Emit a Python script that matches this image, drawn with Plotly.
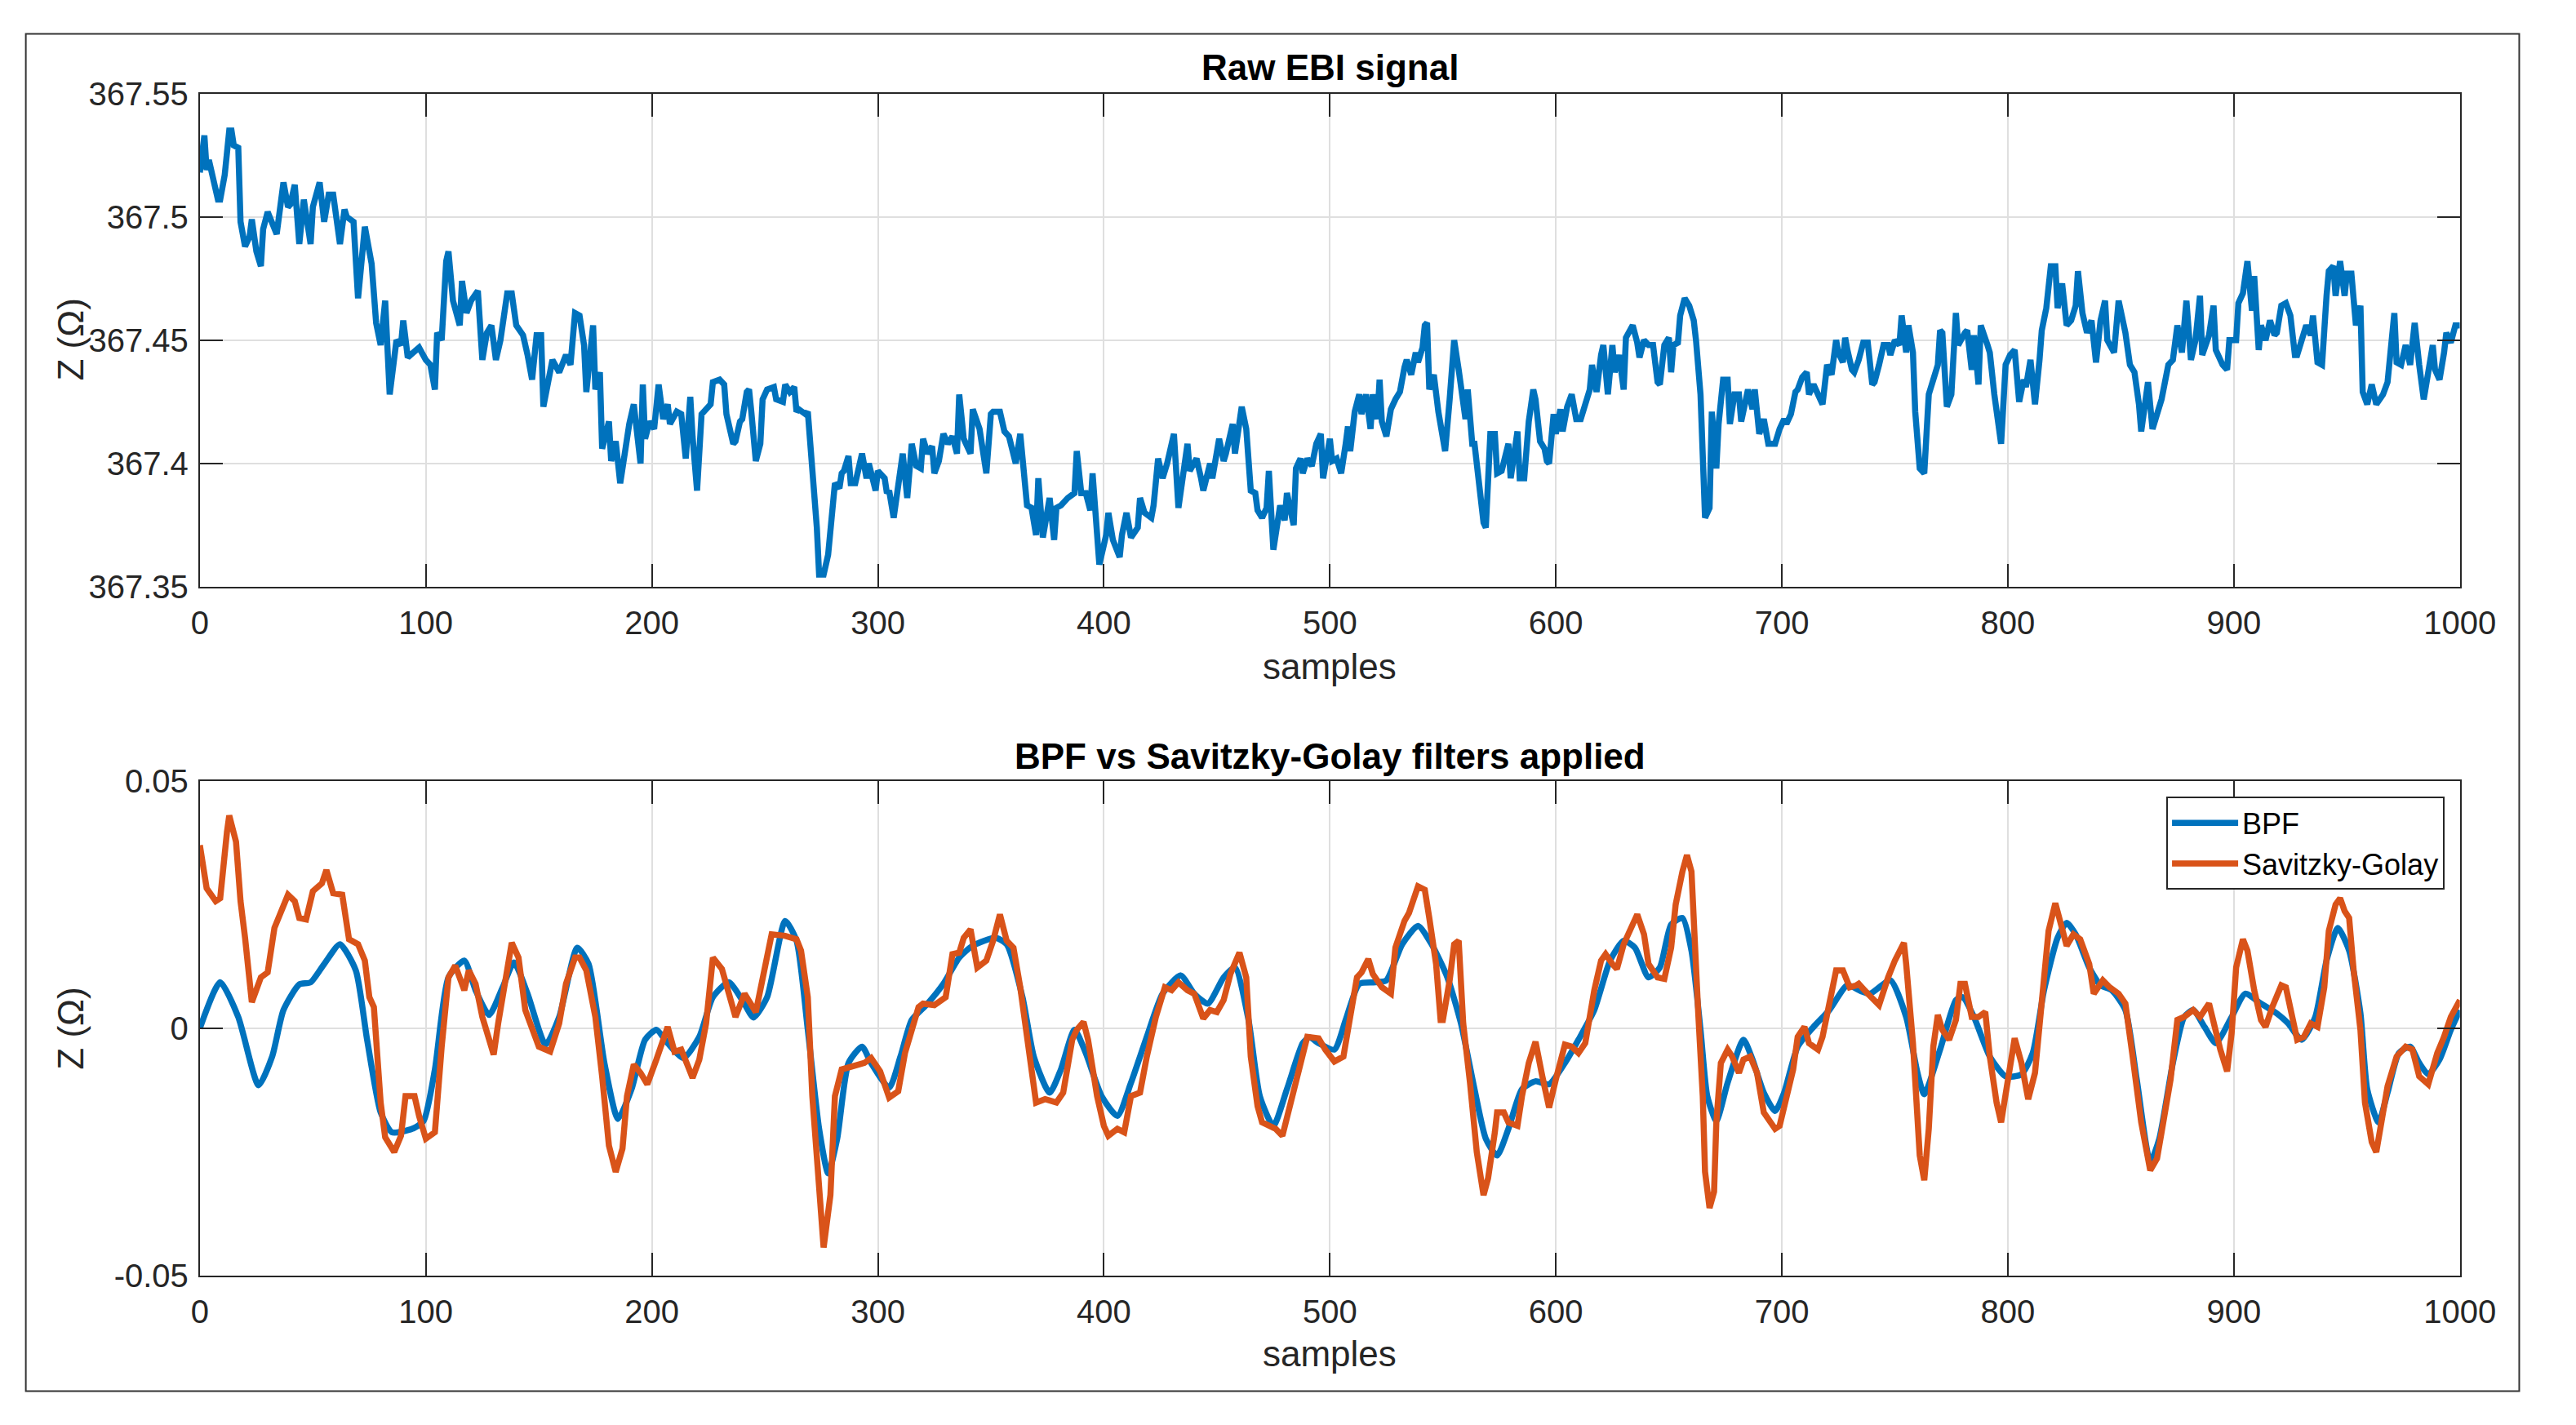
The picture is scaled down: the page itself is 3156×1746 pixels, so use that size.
import plotly.graph_objects as go

# ---------------- data ----------------
raw_samples = [
    0, 2, 3, 4, 8, 9, 11, 13, 14, 15,
    17, 18, 20, 22, 23, 25, 27, 28, 30, 33,
    34, 37, 39, 40, 42, 44, 46, 49, 50, 53,
    55, 57, 59, 62, 64, 65, 68, 70, 73, 76,
    78, 80, 82, 84, 87, 89, 90, 92, 95, 97,
    100, 102, 104, 105, 107, 109, 110, 112, 115, 116,
    118, 120, 123, 125, 127, 129, 131, 133, 136, 138,
    140, 143, 145, 147, 149, 151, 152, 154, 156, 159,
    162, 164, 166, 168, 170, 171, 174, 175, 177, 178,
    181, 182, 184, 186, 188, 190, 192, 193, 195, 196,
    197, 199, 201, 203, 205, 207, 208, 211, 213, 215,
    217, 218, 220, 222, 224, 226, 227, 230, 232, 233,
    236, 237, 239, 240, 242, 243, 244, 246, 248, 249,
    251, 254, 255, 258, 259, 261, 263, 264, 265, 268,
    269, 271, 273, 274, 276, 278, 279, 281, 283, 284,
    285, 287, 288, 290, 293, 295, 296, 299, 300, 303,
    304, 305, 307, 310, 311, 313, 315, 317, 319, 320,
    322, 324, 325, 327, 329, 331, 333, 335, 336, 338,
    341, 342, 345, 346, 348, 350, 351, 354, 356, 358,
    361, 363, 366, 368, 370, 371, 373, 376, 378, 379,
    381, 384, 387, 388, 390, 392, 394, 395, 397, 398,
    401, 402, 404, 407, 408, 410, 412, 415, 416, 418,
    421, 422, 424, 426, 428, 431, 433, 435, 437, 438,
    441, 443, 444, 447, 448, 451, 453, 454, 457, 458,
    461, 463, 465, 467, 468, 470, 472, 473, 475, 478,
    480, 481, 484, 485, 487, 488, 490, 492, 493, 494,
    496, 497, 500, 501, 503, 505, 507, 508, 509, 511,
    513, 514, 516, 518, 519, 521, 522, 523, 525, 527,
    529, 531, 533, 534, 536, 538, 539, 541, 542, 543,
    544, 546, 548, 549, 551, 553, 555, 557, 559, 560,
    561, 563, 564, 566, 568, 569, 571, 573, 574, 576,
    579, 580, 583, 584, 586, 588, 590, 591, 593, 595,
    596, 597, 599, 600, 602, 603, 605, 607, 609, 611,
    613, 615, 616, 618, 620, 621, 623, 625, 626, 628,
    630, 631, 634, 636, 637, 639, 641, 643, 645, 646,
    648, 650, 651, 652, 654, 655, 657, 659, 661, 662,
    664, 665, 666, 668, 669, 671, 672, 674, 676, 677,
    679, 681, 682, 685, 687, 688, 690, 692, 694, 696,
    697, 699, 701, 702, 704, 706, 707, 709, 711, 712,
    714, 717, 718, 720, 722, 724, 725, 727, 728, 729,
    731, 732, 734, 736, 738, 740, 741, 743, 745, 747,
    748, 750, 752, 753, 755, 756, 758, 759, 761, 763,
    765, 767, 769, 770, 771, 773, 775, 777, 778, 781,
    782, 784, 785, 787, 788, 791, 792, 794, 797, 799,
    801, 803, 805, 807, 808, 810, 812, 814, 815, 817,
    819, 821, 822, 824, 826, 828, 830, 831, 833, 835,
    837, 839, 841, 843, 844, 847, 849, 852, 854, 856,
    858, 859, 862, 864, 866, 868, 871, 873, 875, 877,
    879, 881, 883, 885, 886, 889, 891, 892, 895, 897,
    898, 901, 902, 904, 906, 908, 909, 911, 912, 914,
    916, 918, 919, 921, 923, 925, 927, 928, 930, 932,
    934, 935, 937, 939, 941, 942, 944, 945, 947, 949,
    950, 952, 954, 956, 957, 959, 961, 963, 966, 968,
    971, 972, 974, 976, 978, 980, 982, 984, 986, 988,
    989, 991, 993, 994, 996, 998, 1000,
]
raw_z = [
    367.518, 367.533, 367.519, 367.523, 367.507, 367.507, 367.517, 367.535, 367.535, 367.529,
    367.528, 367.498, 367.488, 367.492, 367.499, 367.486, 367.480, 367.495, 367.502, 367.496,
    367.493, 367.514, 367.504, 367.505, 367.513, 367.489, 367.507, 367.489, 367.504, 367.514,
    367.498, 367.509, 367.509, 367.489, 367.503, 367.500, 367.498, 367.467, 367.496, 367.481,
    367.457, 367.448, 367.466, 367.428, 367.450, 367.448, 367.458, 367.443, 367.445, 367.447,
    367.442, 367.440, 367.430, 367.453, 367.450, 367.482, 367.486, 367.466, 367.456, 367.474,
    367.461, 367.466, 367.470, 367.442, 367.453, 367.456, 367.442, 367.450, 367.469, 367.469,
    367.456, 367.452, 367.444, 367.434, 367.452, 367.452, 367.423, 367.432, 367.442, 367.437,
    367.444, 367.440, 367.461, 367.460, 367.448, 367.429, 367.456, 367.430, 367.437, 367.406,
    367.417, 367.401, 367.409, 367.392, 367.405, 367.416, 367.424, 367.416, 367.400, 367.432,
    367.410, 367.417, 367.414, 367.432, 367.418, 367.424, 367.416, 367.421, 367.420, 367.402,
    367.427, 367.411, 367.389, 367.420, 367.422, 367.424, 367.433, 367.434, 367.432, 367.420,
    367.408, 367.409, 367.417, 367.418, 367.429, 367.430, 367.421, 367.401, 367.408, 367.426,
    367.430, 367.431, 367.426, 367.425, 367.432, 367.429, 367.431, 367.421, 367.422, 367.420,
    367.421, 367.398, 367.374, 367.355, 367.355, 367.363, 367.375, 367.392, 367.390, 367.396,
    367.397, 367.403, 367.392, 367.392, 367.404, 367.394, 367.400, 367.389, 367.397, 367.394,
    367.388, 367.389, 367.378, 367.396, 367.404, 367.386, 367.408, 367.399, 367.398, 367.410,
    367.404, 367.407, 367.396, 367.401, 367.412, 367.408, 367.411, 367.404, 367.428, 367.410,
    367.404, 367.422, 367.414, 367.408, 367.396, 367.420, 367.421, 367.421, 367.413, 367.411,
    367.400, 367.412, 367.383, 367.382, 367.371, 367.394, 367.370, 367.386, 367.369, 367.382,
    367.383, 367.386, 367.388, 367.405, 367.388, 367.388, 367.381, 367.396, 367.374, 367.359,
    367.371, 367.380, 367.369, 367.362, 367.371, 367.380, 367.370, 367.374, 367.386, 367.380,
    367.378, 367.383, 367.402, 367.394, 367.400, 367.412, 367.382, 367.396, 367.408, 367.397,
    367.402, 367.394, 367.389, 367.400, 367.394, 367.410, 367.401, 367.404, 367.416, 367.404,
    367.423, 367.414, 367.389, 367.388, 367.381, 367.378, 367.382, 367.397, 367.365, 367.383,
    367.377, 367.388, 367.375, 367.398, 367.402, 367.396, 367.402, 367.399, 367.405, 367.408,
    367.412, 367.394, 367.410, 367.401, 367.402, 367.396, 367.408, 367.415, 367.405, 367.421,
    367.428, 367.420, 367.428, 367.414, 367.428, 367.418, 367.434, 367.417, 367.411, 367.422,
    367.426, 367.429, 367.439, 367.442, 367.436, 367.445, 367.441, 367.447, 367.456, 367.457,
    367.430, 367.436, 367.421, 367.416, 367.405, 367.426, 367.450, 367.438, 367.421, 367.418,
    367.430, 367.408, 367.408, 367.389, 367.376, 367.374, 367.412, 367.412, 367.396, 367.397,
    367.408, 367.394, 367.413, 367.394, 367.394, 367.417, 367.430, 367.426, 367.409, 367.406,
    367.401, 367.400, 367.420, 367.412, 367.422, 367.413, 367.423, 367.428, 367.418, 367.418,
    367.425, 367.430, 367.440, 367.429, 367.444, 367.448, 367.428, 367.448, 367.437, 367.444,
    367.430, 367.451, 367.456, 367.449, 367.443, 367.450, 367.448, 367.448, 367.433, 367.432,
    367.448, 367.451, 367.437, 367.448, 367.449, 367.460, 367.467, 367.464, 367.458, 367.450,
    367.428, 367.408, 367.378, 367.382, 367.421, 367.398, 367.416, 367.434, 367.434, 367.416,
    367.428, 367.428, 367.417, 367.430, 367.422, 367.430, 367.412, 367.418, 367.408, 367.408,
    367.408, 367.414, 367.418, 367.416, 367.420, 367.429, 367.430, 367.435, 367.437, 367.428,
    367.432, 367.426, 367.424, 367.440, 367.436, 367.450, 367.445, 367.441, 367.451, 367.446,
    367.438, 367.437, 367.442, 367.449, 367.449, 367.432, 367.433, 367.440, 367.448, 367.448,
    367.444, 367.450, 367.448, 367.460, 367.445, 367.456, 367.445, 367.421, 367.398, 367.396,
    367.428, 367.434, 367.440, 367.454, 367.453, 367.423, 367.428, 367.461, 367.448, 367.453,
    367.454, 367.438, 367.452, 367.432, 367.456, 367.448, 367.445, 367.428, 367.408, 367.440,
    367.444, 367.446, 367.425, 367.434, 367.431, 367.442, 367.424, 367.442, 367.454, 367.463,
    367.480, 367.480, 367.463, 367.473, 367.456, 367.458, 367.464, 367.478, 367.461, 367.453,
    367.458, 367.441, 367.458, 367.466, 367.450, 367.445, 367.466, 367.453, 367.440, 367.437,
    367.424, 367.413, 367.433, 367.414, 367.421, 367.426, 367.440, 367.442, 367.456, 367.445,
    367.466, 367.442, 367.450, 367.468, 367.444, 367.452, 367.464, 367.446, 367.440, 367.438,
    367.450, 367.450, 367.465, 367.469, 367.482, 367.462, 367.476, 367.446, 367.456, 367.450,
    367.458, 367.452, 367.453, 367.464, 367.465, 367.460, 367.444, 367.444, 367.450, 367.456,
    367.452, 367.460, 367.441, 367.440, 367.468, 367.478, 367.480, 367.468, 367.482, 367.468,
    367.477, 367.477, 367.456, 367.464, 367.429, 367.424, 367.432, 367.424, 367.428, 367.433,
    367.461, 367.441, 367.440, 367.448, 367.440, 367.457, 367.440, 367.426, 367.437, 367.448,
    367.438, 367.434, 367.445, 367.453, 367.449, 367.456, 367.456,
]

bpf_samples = [
    0, 9, 17, 26, 32, 37, 44, 49, 55, 62,
    69, 74, 80, 85, 94, 99, 104, 110, 117, 122,
    128, 134, 139, 145, 153, 159, 167, 172, 179, 185,
    191, 197, 202, 207, 214, 221, 227, 234, 240, 245,
    251, 259, 264, 269, 274, 278, 282, 287, 293, 297,
    305, 310, 315, 322, 329, 336, 342, 352, 357, 364,
    369, 376, 381, 387, 392, 399, 406, 412, 419, 426,
    434, 440, 446, 453, 458, 464, 469, 475, 481, 488,
    491, 495, 502, 507, 513, 520, 525, 532, 539, 545,
    552, 558, 564, 569, 574, 579, 585, 591, 597, 604,
    610, 617, 624, 630, 635, 641, 646, 651, 656, 660,
    664, 667, 671, 676, 683, 687, 692, 697, 701, 707,
    714, 721, 729, 735, 739, 748, 755, 760, 763, 770,
    777, 780, 785, 792, 799, 806, 811, 816, 822, 826,
    830, 836, 841, 846, 852, 857, 863, 867, 873, 878,
    882, 887, 892, 899, 905, 912, 919, 924, 930, 936,
    941, 946, 951, 956, 959, 964, 968, 973, 978, 982,
    986, 991, 996, 1000,
]
bpf_z = [
    0.0000, 0.0093, 0.0023, -0.0115, -0.0057, 0.0037, 0.0089, 0.0093, 0.0130, 0.0170,
    0.0117, -0.0023, -0.0170, -0.0210, -0.0203, -0.0187, -0.0083, 0.0103, 0.0137, 0.0077,
    0.0027, 0.0083, 0.0133, 0.0070, -0.0033, 0.0023, 0.0163, 0.0130, -0.0070, -0.0183,
    -0.0123, -0.0023, -0.0003, -0.0030, -0.0060, -0.0017, 0.0063, 0.0093, 0.0057, 0.0022,
    0.0063, 0.0217, 0.0177, -0.0003, -0.0203, -0.0293, -0.0223, -0.0070, -0.0037, -0.0070,
    -0.0120, -0.0057, 0.0017, 0.0050, 0.0090, 0.0143, 0.0167, 0.0183, 0.0170, 0.0063,
    -0.0057, -0.0130, -0.0083, -0.0003, -0.0050, -0.0137, -0.0177, -0.0110, -0.0017, 0.0070,
    0.0107, 0.0070, 0.0050, 0.0103, 0.0123, 0.0017, -0.0137, -0.0197, -0.0123, -0.0030,
    -0.0018, -0.0030, -0.0043, 0.0017, 0.0090, 0.0093, 0.0097, 0.0170, 0.0207, 0.0170,
    0.0103, 0.0010, -0.0123, -0.0223, -0.0257, -0.0203, -0.0123, -0.0107, -0.0113, -0.0070,
    -0.0023, 0.0037, 0.0137, 0.0177, 0.0163, 0.0103, 0.0123, 0.0210, 0.0223, 0.0157,
    -0.0003, -0.0137, -0.0187, -0.0110, -0.0023, -0.0063, -0.0130, -0.0167, -0.0130, -0.0037,
    0.0003, 0.0037, 0.0087, 0.0075, 0.0070, 0.0097, 0.0023, -0.0090, -0.0133, -0.0043,
    0.0057, 0.0063, 0.0023, -0.0057, -0.0097, -0.0093, -0.0050, 0.0077, 0.0183, 0.0213,
    0.0190, 0.0123, 0.0087, 0.0077, 0.0037, -0.0103, -0.0270, -0.0223, -0.0070, 0.0023,
    0.0037, 0.0003, -0.0030, 0.0023, 0.0070, 0.0050, 0.0030, 0.0010, -0.0023, 0.0023,
    0.0137, 0.0203, 0.0157, 0.0030, -0.0123, -0.0190, -0.0130, -0.0050, -0.0037, -0.0070,
    -0.0093, -0.0063, -0.0003, 0.0037,
]

sg_samples = [
    0, 3, 7, 9, 12, 13, 16, 18, 20, 23,
    27, 30, 33, 37, 39, 42, 44, 47, 50, 54,
    56, 59, 63, 66, 70, 73, 75, 77, 80, 82,
    86, 89, 91, 95, 97, 100, 104, 107, 110, 113,
    117, 119, 122, 125, 130, 132, 136, 138, 141, 144,
    150, 155, 159, 162, 166, 168, 171, 175, 178, 181,
    184, 187, 189, 192, 195, 198, 202, 204, 207, 210,
    213, 216, 218, 221, 224, 227, 231, 237, 241, 246,
    249, 253, 259, 264, 266, 269, 271, 274, 276, 279,
    281, 284, 289, 294, 297, 301, 305, 309, 312, 315,
    318, 320, 325, 330, 333, 336, 338, 341, 344, 348,
    351, 354, 357, 360, 363, 366, 368, 370, 374, 379,
    382, 386, 388, 391, 393, 397, 400, 402, 406, 409,
    412, 416, 419, 423, 427, 430, 433, 437, 440, 444,
    447, 450, 453, 456, 460, 463, 465, 468, 470, 473,
    476, 479, 482, 486, 490, 495, 498, 502, 506, 508,
    512, 514, 517, 519, 523, 527, 529, 533, 535, 539,
    542, 544, 547, 549, 550, 553, 555, 557, 559, 562,
    565, 568, 570, 573, 574, 577, 579, 583, 585, 588,
    591, 594, 597, 600, 604, 607, 610, 613, 615, 617,
    620, 622, 625, 627, 630, 634, 636, 639, 641, 645,
    648, 651, 653, 656, 658, 660, 661, 663, 665, 666,
    668, 670, 671, 673, 676, 678, 681, 683, 686, 689,
    692, 697, 699, 702, 705, 707, 710, 712, 716, 718,
    721, 724, 727, 730, 733, 734, 738, 743, 747, 750,
    754, 755, 758, 761, 763, 765, 767, 769, 771, 774,
    777, 779, 781, 784, 787, 790, 792, 795, 797, 800,
    803, 806, 809, 812, 815, 818, 821, 823, 826, 829,
    832, 836, 838, 842, 845, 849, 852, 855, 859, 863,
    866, 868, 872, 875, 878, 882, 885, 889, 891, 894,
    897, 899, 901, 904, 906, 909, 912, 914, 917, 921,
    923, 926, 928, 931, 934, 937, 940, 942, 945, 947,
    949, 951, 953, 956, 958, 961, 963, 965, 968, 972,
    976, 979, 982, 986, 990, 993, 996, 1000,
]
sg_z = [
    0.0370, 0.0283, 0.0257, 0.0263, 0.0397, 0.0430, 0.0377, 0.0257, 0.0183, 0.0053,
    0.0103, 0.0113, 0.0203, 0.0243, 0.0270, 0.0257, 0.0223, 0.0220, 0.0277, 0.0293,
    0.0320, 0.0273, 0.0270, 0.0180, 0.0170, 0.0137, 0.0063, 0.0043, -0.0150, -0.0220,
    -0.0250, -0.0217, -0.0137, -0.0137, -0.0177, -0.0223, -0.0210, -0.0037, 0.0103, 0.0127,
    0.0077, 0.0117, 0.0090, 0.0023, -0.0053, 0.0010, 0.0117, 0.0173, 0.0143, 0.0037,
    -0.0037, -0.0047, 0.0010, 0.0090, 0.0143, 0.0143, 0.0117, 0.0023, -0.0097, -0.0237,
    -0.0290, -0.0243, -0.0137, -0.0073, -0.0090, -0.0113, -0.0063, -0.0033, 0.0003, -0.0047,
    -0.0043, -0.0077, -0.0100, -0.0063, 0.0010, 0.0143, 0.0120, 0.0023, 0.0070, 0.0033,
    0.0103, 0.0190, 0.0187, 0.0180, 0.0157, 0.0063, -0.0137, -0.0330, -0.0443, -0.0337,
    -0.0137, -0.0083, -0.0077, -0.0070, -0.0060, -0.0087, -0.0140, -0.0127, -0.0050, -0.0003,
    0.0043, 0.0050, 0.0047, 0.0063, 0.0150, 0.0153, 0.0183, 0.0200, 0.0123, 0.0137,
    0.0177, 0.0230, 0.0177, 0.0163, 0.0083, -0.0017, -0.0090, -0.0150, -0.0143, -0.0150,
    -0.0130, -0.0023, -0.0003, 0.0013, -0.0023, -0.0137, -0.0197, -0.0217, -0.0203, -0.0210,
    -0.0137, -0.0130, -0.0057, 0.0023, 0.0083, 0.0077, 0.0093, 0.0077, 0.0070, 0.0020,
    0.0037, 0.0033, 0.0057, 0.0110, 0.0153, 0.0103, -0.0057, -0.0157, -0.0190, -0.0197,
    -0.0203, -0.0217, -0.0163, -0.0090, -0.0017, -0.0020, -0.0043, -0.0067, -0.0057, -0.0003,
    0.0103, 0.0113, 0.0140, 0.0110, 0.0083, 0.0070, 0.0163, 0.0217, 0.0233, 0.0287,
    0.0280, 0.0223, 0.0130, 0.0017, 0.0017, 0.0097, 0.0170, 0.0177, 0.0010, -0.0110,
    -0.0250, -0.0337, -0.0303, -0.0210, -0.0170, -0.0170, -0.0190, -0.0197, -0.0137, -0.0070,
    -0.0027, -0.0097, -0.0160, -0.0103, -0.0033, -0.0037, -0.0050, -0.0030, 0.0023, 0.0077,
    0.0137, 0.0150, 0.0130, 0.0120, 0.0170, 0.0210, 0.0230, 0.0190, 0.0130, 0.0103,
    0.0100, 0.0163, 0.0250, 0.0317, 0.0350, 0.0317, 0.0210, 0.0030, -0.0137, -0.0290,
    -0.0363, -0.0330, -0.0190, -0.0070, -0.0043, -0.0057, -0.0090, -0.0063, -0.0057, -0.0090,
    -0.0170, -0.0203, -0.0197, -0.0137, -0.0083, -0.0017, 0.0003, -0.0030, -0.0043, -0.0017,
    0.0057, 0.0117, 0.0117, 0.0083, 0.0087, 0.0090, 0.0070, 0.0047, 0.0103, 0.0137,
    0.0173, 0.0130, -0.0030, -0.0257, -0.0307, -0.0203, -0.0037, 0.0027, -0.0003, -0.0023,
    0.0017, 0.0090, 0.0090, 0.0023, 0.0023, 0.0033, -0.0057, -0.0150, -0.0190, -0.0097,
    -0.0020, -0.0070, -0.0143, -0.0090, 0.0063, 0.0197, 0.0253, 0.0217, 0.0167, 0.0190,
    0.0180, 0.0130, 0.0070, 0.0097, 0.0083, 0.0070, 0.0050, -0.0050, -0.0190, -0.0287,
    -0.0263, -0.0210, -0.0103, 0.0017, 0.0023, 0.0037, 0.0023, 0.0050, 0.0010, -0.0043,
    -0.0087, -0.0010, 0.0123, 0.0180, 0.0157, 0.0077, 0.0017, 0.0003, 0.0043, 0.0087,
    0.0083, 0.0023, -0.0023, -0.0017, 0.0010, 0.0003, 0.0083, 0.0197, 0.0250, 0.0263,
    0.0237, 0.0223, 0.0117, -0.0003, -0.0150, -0.0230, -0.0250, -0.0197, -0.0117, -0.0057,
    -0.0037, -0.0043, -0.0097, -0.0113, -0.0050, -0.0017, 0.0023, 0.0057,
]

x_ticks = [0, 100, 200, 300, 400, 500, 600, 700, 800, 900, 1000]
raw_ticks = [367.35, 367.40, 367.45, 367.50, 367.55]
raw_tick_text = ["367.35", "367.4", "367.45", "367.5", "367.55"]
filt_ticks = [-0.05, 0.0, 0.05]
filt_tick_text = ["-0.05", "0", "0.05"]

# ---------------- styling ----------------
W, H = 3156, 1746
FONT = "Liberation Sans, Arial, Helvetica, sans-serif"
AX = "#262626"
GRID = "#dfdfdf"
BLUE = "#0072BD"
ORANGE = "#D95319"
X_DOM = [238 / W, 3056 / W]
Y1_DOM = [1 - 715 / H, 1 - 95 / H]
Y2_DOM = [1 - 1581 / H, 1 - 959 / H]

fig = go.Figure()
fig.add_trace(go.Scatter(x=raw_samples, y=raw_z, mode="lines",
                         line=dict(color=BLUE, width=7.5), showlegend=False,
                         xaxis="x", yaxis="y"))
fig.add_trace(go.Scatter(x=bpf_samples, y=bpf_z, mode="lines", name="BPF",
                         line=dict(color=BLUE, width=7.5, shape="spline", smoothing=0.6),
                         xaxis="x2", yaxis="y2"))
fig.add_trace(go.Scatter(x=sg_samples, y=sg_z, mode="lines", name="Savitzky-Golay",
                         line=dict(color=ORANGE, width=7.5),
                         xaxis="x2", yaxis="y2"))

axis_common = dict(showline=True, linecolor=AX, linewidth=2, mirror="ticks",
                   ticks="inside", ticklen=28, tickwidth=2, tickcolor=AX,
                   showgrid=True, gridcolor=GRID, gridwidth=2, zeroline=False,
                   tickfont=dict(family=FONT, size=40, color=AX))

fig.update_layout(
    autosize=True,
    margin=dict(l=0, r=0, t=0, b=0),
    paper_bgcolor="white", plot_bgcolor="white",
    font=dict(family=FONT, color=AX),
    xaxis=dict(domain=X_DOM, anchor="y", range=[0, 1000], tickmode="array",
               tickvals=x_ticks, ticklabelstandoff=8, **axis_common),
    yaxis=dict(domain=Y1_DOM, anchor="x", range=[367.35, 367.55], tickmode="array",
               tickvals=raw_ticks, ticktext=raw_tick_text, ticklabelstandoff=4,
               **axis_common),
    xaxis2=dict(domain=X_DOM, anchor="y2", range=[0, 1000], tickmode="array",
                tickvals=x_ticks, ticklabelstandoff=8, **axis_common),
    yaxis2=dict(domain=Y2_DOM, anchor="x2", range=[-0.05, 0.05], tickmode="array",
                tickvals=filt_ticks, ticktext=filt_tick_text, ticklabelstandoff=4,
                **axis_common),
    legend=dict(x=3037 / W, xanchor="right", y=1 - 979 / H, yanchor="top",
                bgcolor="white", bordercolor=AX, borderwidth=2,
                font=dict(family=FONT, size=36, color="black"),
                itemwidth=81, tracegroupgap=0),
    shapes=[dict(type="rect", xref="paper", yref="paper",
                 x0=21 / W, x1=3130 / W, y0=1 - 1726 / H, y1=1 - 20 / H,
                 line=dict(color="#333333", width=2), fillcolor="rgba(0,0,0,0)",
                 layer="below")],
)

xc = (X_DOM[0] + X_DOM[1]) / 2
ann = [
    dict(text="<b>Raw EBI signal</b>", x=xc, y=1 - 62 / H, size=44, color="black"),
    dict(text="<b>BPF vs Savitzky-Golay filters applied</b>", x=xc, y=1 - 928 / H,
         size=44, color="black"),
    dict(text="samples", x=xc, y=1 - 815 / H, size=44, color=AX),
    dict(text="samples", x=xc, y=1 - 1679 / H, size=44, color=AX),
]
for a in ann:
    fig.add_annotation(text=a["text"], x=a["x"], y=a["y"], xref="paper", yref="paper",
                       xanchor="center", yanchor="middle", showarrow=False,
                       font=dict(family=FONT, size=a["size"], color=a["color"]))
for yy in (1 - 404 / H, 1 - 1270 / H):
    fig.add_annotation(text="Z (Ω)", x=77 / W, y=yy, xref="paper", yref="paper",
                       xanchor="center", yanchor="middle", showarrow=False, textangle=-90,
                       font=dict(family=FONT, size=44, color=AX))

fig.write_html(
    "out.html",
    default_width="100vw",
    default_height="100vh",
    config={"displayModeBar": False, "responsive": True},
    post_script=(
        "document.documentElement.style.margin='0';"
        "document.body.style.margin='0';"
        "document.body.style.overflow='hidden';"
        "Plotly.Plots.resize(document.getElementById('{plot_id}'));"
    ),
)
